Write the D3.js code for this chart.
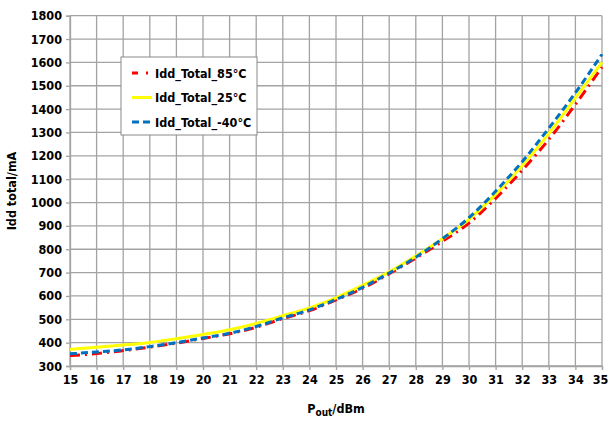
<!DOCTYPE html>
<html><head><meta charset="utf-8">
<script src="https://cdn.jsdelivr.net/npm/d3@7"></script>
<style>
body{margin:0;background:#fff;}
text{font-family:"DejaVu Sans Condensed","Liberation Sans",sans-serif;font-weight:bold;fill:#000;}
</style></head>
<body><svg id="c" width="608" height="421"></svg>
<script>
const pout = [15,16,17,18,19,20,21,22,23,24,25,26,27,28,29,30,31,32,33,34,35];
const idd85 = [345,353,366,381,398,418,438,466,503,537,583,633,695,762,834,912,1018,1138,1270,1420,1580];
const idd25 = [371,380,390,401,417,435,455,482,515,549,592,645,703,771,845,928,1035,1158,1295,1448,1600];
const iddm40 = [352,360,369,383,400,420,440,469,506,540,585,637,698,766,845,935,1048,1175,1318,1470,1635];
const xTicks = d3.range(15,36,1);
const yTicks = d3.range(300,1801,100);
const seriesNames = ["Idd_Total_85°C","Idd_Total_25°C","Idd_Total_-40°C"];
const seriesColors = ["#ff0000","#ffff00","#0070c0"];
const seriesDash = ["10,5,2,5","none","7,4"];

const svg = d3.select("#c");
const x = d3.scaleLinear().domain([15,35]).range([70,602]);
const y = d3.scaleLinear().domain([300,1800]).range([366,15.7]);
const grid = "#a3a3a3";

// grid
svg.append("g").selectAll("line").data(yTicks).join("line")
  .attr("x1",70).attr("x2",602).attr("y1",d=>y(d)).attr("y2",d=>y(d))
  .attr("stroke",grid).attr("stroke-width",1.3);
svg.append("g").selectAll("line").data(xTicks).join("line")
  .attr("y1",y(300)).attr("y2",y(1800)).attr("x1",d=>x(d)).attr("x2",d=>x(d))
  .attr("stroke",grid).attr("stroke-width",1.3);

// axes
const ya = svg.append("g").attr("transform","translate(70,0)")
  .call(d3.axisLeft(y).tickValues(yTicks).tickFormat(d3.format("d")).tickSize(4).tickPadding(4));
const xa = svg.append("g").attr("transform",`translate(0,${y(300)})`)
  .call(d3.axisBottom(x).tickValues(xTicks).tickFormat(d3.format("d")).tickSize(4).tickPadding(5));
[ya,xa].forEach(a=>{
  a.select(".domain").attr("stroke",grid).attr("stroke-width",1.3);
  a.selectAll(".tick line").attr("stroke",grid).attr("stroke-width",1.3);
  a.selectAll(".tick text").attr("font-size",12.5).attr("fill","#000")
   .attr("font-family",'"DejaVu Sans Condensed",sans-serif');
});
xa.selectAll(".tick text").filter(d=>d===35).attr("dx",-2);

// lines
const data = [idd85, idd25, iddm40];
const line = d3.line().x((d,i)=>x(pout[i])).y(d=>y(d)).curve(d3.curveMonotoneX);
data.forEach((s,k)=>{
  svg.append("path").datum(s).attr("d",line).attr("fill","none")
    .attr("stroke",seriesColors[k]).attr("stroke-width",3)
    .attr("stroke-dasharray",seriesDash[k]==="none"?null:seriesDash[k]);
});

// legend
const lg = svg.append("g");
lg.append("rect").attr("x",121).attr("y",57).attr("width",136).attr("height",78)
  .attr("fill","#fff").attr("stroke","#8a8a8a").attr("stroke-width",1);
seriesNames.forEach((n,k)=>{
  const yy = 73 + k*24.5;
  lg.append("line").attr("x1",132).attr("x2",152).attr("y1",yy).attr("y2",yy)
    .attr("stroke",seriesColors[k]).attr("stroke-width",3)
    .attr("stroke-dasharray",seriesDash[k]==="none"?null:(k===0?"6,8,2,5":seriesDash[k]));
  lg.append("text").attr("x",155).attr("y",yy+4.5).attr("font-size",12.5).text(n);
});

// titles
const xt = svg.append("text").attr("x",336).attr("y",413).attr("text-anchor","middle").attr("font-size",12.5);
xt.append("tspan").text("P");
xt.append("tspan").attr("baseline-shift","-25%").attr("font-size",10).text("out");
xt.append("tspan").text("/dBm");
svg.append("text").attr("transform","translate(16,191) rotate(-90)").attr("text-anchor","middle")
  .attr("font-size",12.5).text("Idd total/mA");
</script></body></html>
